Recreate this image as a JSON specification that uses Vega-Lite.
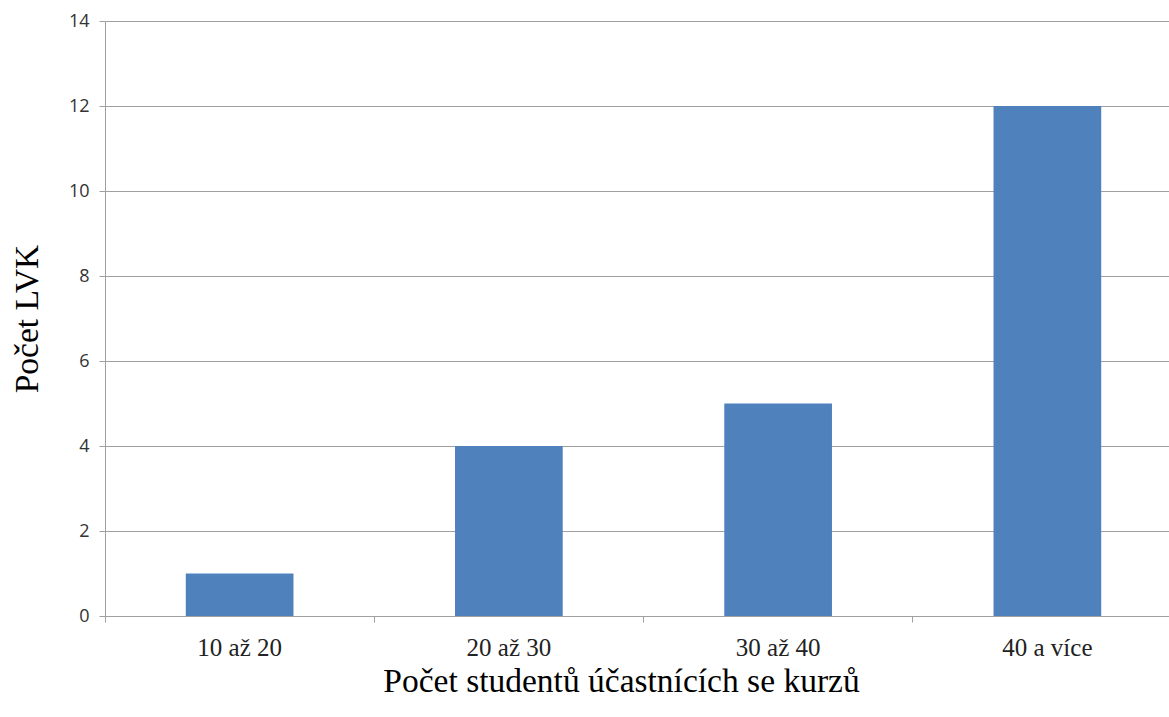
{
  "$schema": "https://vega.github.io/schema/vega-lite/v6.json",
  "autosize": "none",
  "padding": {"left": 105, "top": 21, "right": 0, "bottom": 101},
  "width": 1077,
  "height": 595,
  "background": "white",
  "data": {"values": [
    {"kategorie": "10 až 20", "pocet": 1},
    {"kategorie": "20 až 30", "pocet": 4},
    {"kategorie": "30 až 40", "pocet": 5},
    {"kategorie": "40 a více", "pocet": 12}
  ]},
  "mark": {"type": "bar", "color": "#4f81bd", "width": {"band": 0.4}},
  "encoding": {
    "x": {
      "field": "kategorie", "type": "nominal", "sort": null,
      "scale": {"paddingInner": 0, "paddingOuter": 0},
      "axis": {
        "title": "Počet studentů účastnících se kurzů",
        "titleFont": "Liberation Serif", "titleFontSize": 33.5, "titleFontWeight": "normal", "titleColor": "#000000",
        "titlePadding": 5, "titleX": 516,
        "labelFont": "Liberation Serif", "labelFontSize": 25, "labelColor": "#222222", "labelAngle": 0,
        "labelPadding": 13, "labelOffset": 0,
        "bandPosition": 0,
        "domainColor": "#a0a0a0", "tickColor": "#a0a0a0", "tickSize": 6, "grid": false
      }
    },
    "y": {
      "field": "pocet", "type": "quantitative",
      "scale": {"domain": [0, 14], "nice": false},
      "axis": {
        "title": "Počet LVK", "values": [0, 2, 4, 6, 8, 10, 12, 14],
        "titleFont": "Liberation Serif", "titleFontSize": 33.5, "titleFontWeight": "normal", "titleColor": "#000000",
        "titlePadding": 24,
        "labelFont": "Open Sans", "labelFontSize": 18, "labelColor": "#333333", "labelPadding": 10,
        "domainColor": "#a0a0a0", "tickColor": "#a0a0a0", "tickSize": 6,
        "gridColor": "#a0a0a0", "gridWidth": 1, "gridOpacity": 1
      }
    }
  },
  "config": {"view": {"stroke": null}}
}
